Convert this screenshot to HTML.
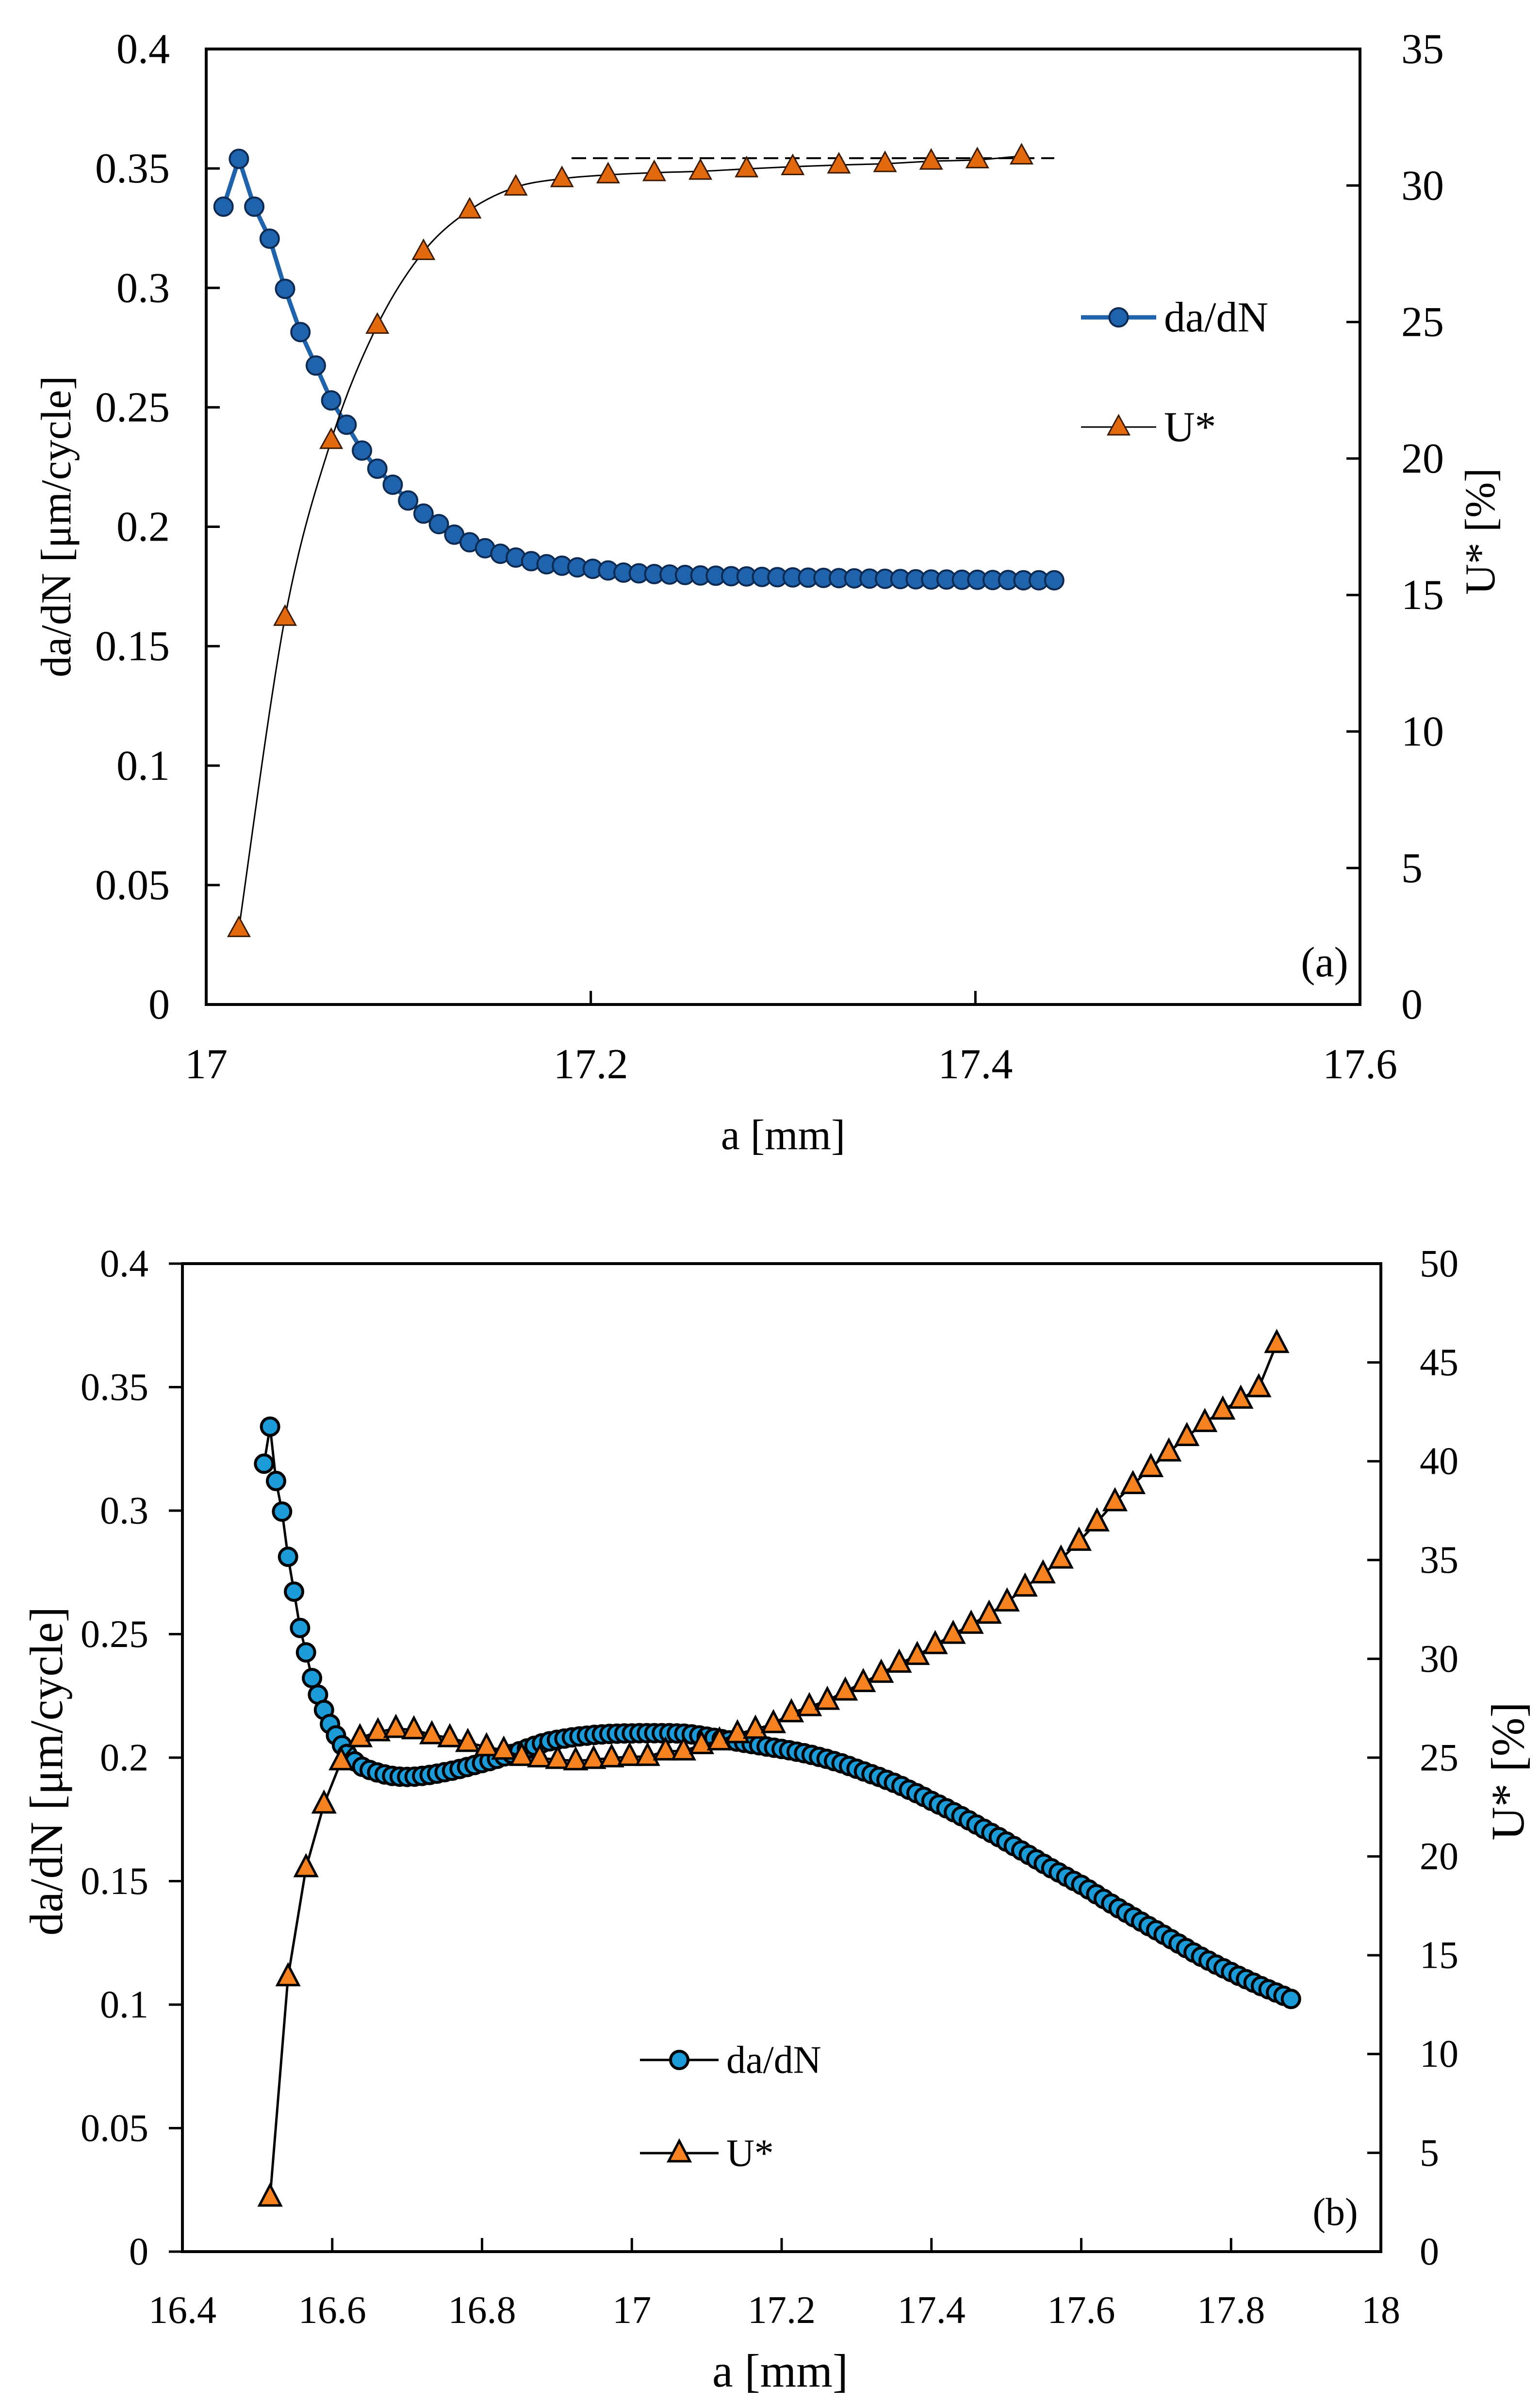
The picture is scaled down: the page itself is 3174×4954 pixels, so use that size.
<!DOCTYPE html>
<html><head><meta charset="utf-8"><title>da/dN and U* vs a</title>
<style>
html,body{margin:0;padding:0;background:#fff;}
svg{display:block;}
text{font-family:"Liberation Serif","DejaVu Serif",serif;fill:#000;}
</style></head>
<body>
<svg id="chart" width="3174" height="4954" viewBox="0 0 3174 4954" xmlns="http://www.w3.org/2000/svg">
  <rect x="0" y="0" width="3174" height="4954" fill="#fff"/>
  <g id="plotA"></g>
  <g id="plotB"></g>
</svg>
<script>
// ---------- Chart (a) data ----------
const aXTicks = [17, 17.2, 17.4, 17.6];
const aXTickLabels = ["17", "17.2", "17.4", "17.6"];
const aYTicks = [0, 0.05, 0.1, 0.15, 0.2, 0.25, 0.3, 0.35, 0.4];
const aYTickLabels = ["0", "0.05", "0.1", "0.15", "0.2", "0.25", "0.3", "0.35", "0.4"];
const aY2Ticks = [0, 5, 10, 15, 20, 25, 30, 35];
const aY2TickLabels = ["0", "5", "10", "15", "20", "25", "30", "35"];
const aRateX = [17.009,17.017,17.025,17.033,17.041,17.049,17.057,17.065,17.073,17.081,17.089,17.097,17.105,17.113,17.121,17.129,17.137,17.145,17.153,17.161,17.169,17.177,17.185,17.193,17.201,17.209,17.217,17.225,17.233,17.241,17.249,17.257,17.265,17.273,17.281,17.289,17.297,17.305,17.313,17.321,17.329,17.337,17.345,17.353,17.361,17.369,17.377,17.385,17.393,17.401,17.409,17.417,17.425,17.433,17.441];
const aRateY = [0.334,0.354,0.334,0.3206,0.2996,0.2815,0.2675,0.2529,0.2427,0.2319,0.2243,0.2176,0.211,0.2055,0.2011,0.1967,0.1935,0.191,0.1887,0.1871,0.1856,0.1843,0.1837,0.183,0.1824,0.1817,0.1808,0.1805,0.1802,0.18,0.1798,0.1796,0.1795,0.1793,0.1792,0.179,0.1789,0.1788,0.1787,0.1786,0.1785,0.1784,0.1783,0.1782,0.1781,0.178,0.1779,0.1779,0.1778,0.1778,0.1777,0.1777,0.1776,0.1776,0.1776];
const aUX = [17.017,17.041,17.065,17.089,17.113,17.137,17.161,17.185,17.209,17.233,17.257,17.281,17.305,17.329,17.353,17.377,17.401,17.424];
const aUY = [2.78,14.18,20.66,24.88,27.58,29.1,29.94,30.25,30.39,30.47,30.52,30.61,30.69,30.75,30.8,30.89,30.94,31.08];
const aDashX = [17.19, 17.441];
const aDashU = [31.0, 31.0];

// ---------- Chart (b) data ----------
const bXTicks = [16.4,16.6,16.8,17,17.2,17.4,17.6,17.8,18];
const bXTickLabels = ["16.4","16.6","16.8","17","17.2","17.4","17.6","17.8","18"];
const bYTicks = [0,0.05,0.1,0.15,0.2,0.25,0.3,0.35,0.4];
const bYTickLabels = ["0","0.05","0.1","0.15","0.2","0.25","0.3","0.35","0.4"];
const bY2Ticks = [0,5,10,15,20,25,30,35,40,45,50];
const bY2TickLabels = ["0","5","10","15","20","25","30","35","40","45","50"];
const bRateX = [16.509,16.517,16.525,16.533,16.541,16.549,16.557,16.565,16.573,16.581,16.589,16.597,16.605,16.613,
16.62,16.63,16.64,16.65,16.66,16.67,16.68,16.69,16.70,16.71,
16.72,16.73,16.74,16.75,16.76,16.77,16.78,16.79,16.80,16.81,
16.82,16.83,16.84,16.85,16.86,16.87,16.88,16.89,16.90,16.91,
16.92,16.93,16.94,16.95,16.96,16.97,16.98,16.99,17.00,17.01,
17.02,17.03,17.04,17.05,17.06,17.07,17.08,17.09,17.10,17.11,
17.12,17.13,17.14,17.15,17.16,17.17,17.18,17.19,17.20,17.21,
17.22,17.23,17.24,17.25,17.26,17.27,17.28,17.29,17.30,17.31,
17.32,17.33,17.34,17.35,17.36,17.37,17.38,17.39,17.40,17.41,
17.42,17.43,17.44,17.45,17.46,17.47,17.48,17.49,17.50,17.51,
17.52,17.53,17.54,17.55,17.56,17.57,17.58,17.59,17.60,17.61,
17.62,17.63,17.64,17.65,17.66,17.67,17.68,17.69,17.70,17.71,
17.72,17.73,17.74,17.75,17.76,17.77,17.78,17.79,17.80,17.81,
17.82,17.83,17.84,17.85,17.86,17.87,17.88];
const bRateY = [0.319,0.334,0.312,0.2996,0.2813,0.2672,0.2525,0.2426,0.2322,0.2255,0.2193,0.2136,0.209,0.205,
0.2015,0.1985,0.1963,0.1950,0.1940,0.1932,0.1926,0.1923,0.1922,0.1923,
0.1926,0.1930,0.1935,0.1941,0.1947,0.1954,0.1962,0.1970,0.1978,0.1986,
0.1995,0.2005,0.2015,0.2026,0.2037,0.2048,0.2058,0.2066,0.2072,0.2077,
0.2082,0.2086,0.2089,0.2092,0.2094,0.2096,0.2097,0.2098,0.2098,0.2099,
0.2099,0.2099,0.2099,0.2099,0.2098,0.2097,0.2094,0.2090,0.2085,0.2080,
0.2075,0.2070,0.2065,0.2060,0.2055,0.2050,0.2045,0.2040,0.2035,0.2030,
0.2024,0.2018,0.2011,0.2003,0.1995,0.1986,0.1977,0.1966,0.1955,0.1944,
0.1933,0.1922,0.1910,0.1898,0.1885,0.1870,0.1856,0.1841,0.1825,0.1810,
0.1795,0.1779,0.1763,0.1746,0.1729,0.1712,0.1695,0.1678,0.1660,0.1642,
0.1624,0.1606,0.1588,0.1570,0.1552,0.1535,0.1518,0.1501,0.1485,0.1466,
0.1447,0.1428,0.1409,0.1390,0.1372,0.1354,0.1336,0.1318,0.1301,0.1283,
0.1265,0.1247,0.1229,0.1211,0.1194,0.1178,0.1162,0.1147,0.1132,0.1117,
0.1103,0.1089,0.1075,0.1062,0.1049,0.1036,0.1023];
const bUX = [16.517,16.541,16.565,16.589,16.612,16.637,16.661,16.685,16.709,16.733,16.757,16.781,16.806,16.829,16.853,16.877,16.901,16.925,16.949,16.973,16.997,17.021,
17.045,17.069,17.093,17.117,17.141,17.165,17.189,17.213,17.237,17.261,17.285,17.309,17.333,17.357,17.381,17.405,17.429,17.453,17.477,17.501,17.525,17.549,17.573,17.597,17.621,17.645,17.669,17.693,17.717,17.741,17.765,17.789,17.813,17.837,17.861];
const bUY = [2.75,13.9,19.42,22.64,24.83,26.0,26.3,26.47,26.4,26.15,26.0,25.76,25.54,25.37,25.05,24.98,24.9,24.83,24.9,24.98,25.05,25.05,
25.33,25.33,25.65,25.84,26.2,26.43,26.71,27.26,27.57,27.89,28.36,28.79,29.26,29.77,30.16,30.71,31.23,31.74,32.25,32.87,33.62,34.29,35.04,35.94,36.92,37.94,38.81,39.67,40.46,41.24,41.95,42.58,43.13,43.71,45.95];

const NS = "http://www.w3.org/2000/svg";
function mk(tag, attrs, parent) {
  const e = document.createElementNS(NS, tag);
  for (const k in attrs) e.setAttribute(k, attrs[k]);
  parent.appendChild(e);
  return e;
}
function linScale(d0, d1, r0, r1) { return v => r0 + (v - d0) / (d1 - d0) * (r1 - r0); }
function smoothPath(pts) {
  let d = "M" + pts[0][0] + "," + pts[0][1];
  for (let i = 0; i < pts.length - 1; i++) {
    const p0 = pts[Math.max(0, i - 1)], p1 = pts[i], p2 = pts[i + 1], p3 = pts[Math.min(pts.length - 1, i + 2)];
    const c1x = p1[0] + (p2[0] - p0[0]) / 6, c1y = p1[1] + (p2[1] - p0[1]) / 6;
    const c2x = p2[0] - (p3[0] - p1[0]) / 6, c2y = p2[1] - (p3[1] - p1[1]) / 6;
    d += " C" + c1x + "," + c1y + " " + c2x + "," + c2y + " " + p2[0] + "," + p2[1];
  }
  return d;
}
function tri(cx, cy, w, h) {
  return (cx) + "," + (cy - h * 0.6) + " " + (cx - w / 2) + "," + (cy + h * 0.4) + " " + (cx + w / 2) + "," + (cy + h * 0.4);
}

function drawChart(cfg) {
  const g = cfg.g;
  const x = linScale(cfg.xmin, cfg.xmax, cfg.L, cfg.R);
  const y = linScale(cfg.ymin, cfg.ymax, cfg.B, cfg.T);
  const y2 = linScale(cfg.y2min, cfg.y2max, cfg.B, cfg.T);
  const fs = cfg.fs;
  const tfs = cfg.tfs;

  const frame = mk("rect", {x: cfg.L, y: cfg.T, width: cfg.R - cfg.L, height: cfg.B - cfg.T, fill: "none", stroke: "#000", "stroke-width": 6}, g);
  
  

  cfg.xTicks.forEach((t, i) => {
    const px = x(t);
    const tk = mk("line", {x1: px, x2: px, y1: cfg.B, y2: cfg.B - 28, stroke: "#000", "stroke-width": 5}, g);
    
    
    const tl = mk("text", {x: px, y: cfg.xLabelY, "font-size": fs, "text-anchor": "middle"}, g);
    tl.textContent = cfg.xTickLabels[i];
    
    
  });
  cfg.yTicks.forEach((t, i) => {
    const py = y(t);
    const tk = mk("line", {x1: cfg.L, x2: cfg.L + cfg.leftTickDir * 28, y1: py, y2: py, stroke: "#000", "stroke-width": 5}, g);
    
    
    const tl = mk("text", {x: cfg.yLabelX, y: py + fs * 0.33, "font-size": fs, "text-anchor": "end"}, g);
    tl.textContent = cfg.yTickLabels[i];
    
    
  });
  cfg.y2Ticks.forEach((t, i) => {
    const py = y2(t);
    const tk = mk("line", {x1: cfg.R, x2: cfg.R - 28, y1: py, y2: py, stroke: "#000", "stroke-width": 5}, g);
    
    
    const tl = mk("text", {x: cfg.y2LabelX, y: py + fs * 0.33, "font-size": fs, "text-anchor": "start"}, g);
    tl.textContent = cfg.y2TickLabels[i];
    
    
  });

  const xt = mk("text", {x: cfg.xTitle[0], y: cfg.xTitle[1], "font-size": tfs, "text-anchor": "middle"}, g);
  xt.textContent = "a [mm]";
  
  
  const yt = mk("text", {x: 0, y: 0, "font-size": tfs, "text-anchor": "middle", transform: "translate(" + cfg.yTitle[0] + "," + cfg.yTitle[1] + ") rotate(-90)"}, g);
  yt.textContent = "da/dN [μm/cycle]";
  
  
  const y2t = mk("text", {x: 0, y: 0, "font-size": tfs, "text-anchor": "middle", transform: "translate(" + cfg.y2Title[0] + "," + cfg.y2Title[1] + ") rotate(-90)"}, g);
  y2t.textContent = cfg.y2TitleText;
  
  

  const pl = mk("text", {x: cfg.panel[0], y: cfg.panel[1], "font-size": fs, "text-anchor": "middle"}, g);
  pl.textContent = cfg.panelText;
  
  

  const rg = mk("g", {}, g);
  
  
  const rpts = cfg.rateX.map((v, i) => [x(v), y(cfg.rateY[i])]);
  const rl = mk("polyline", {points: rpts.map(p => p.join(",")).join(" "), fill: "none", stroke: cfg.rateLine, "stroke-width": cfg.rateLineW, "stroke-linejoin": "round"}, rg);
  
  
  rpts.forEach(p => {
    const c = mk("circle", {cx: p[0], cy: p[1], r: cfg.circR, fill: cfg.circFill, stroke: cfg.circStroke, "stroke-width": cfg.circSW}, rg);
    
    
  });

  if (cfg.dashX) {
    const dl = mk("line", {x1: x(cfg.dashX[0]), x2: x(cfg.dashX[1]), y1: y2(cfg.dashU[0]), y2: y2(cfg.dashU[1]), stroke: "#000", "stroke-width": 4, "stroke-dasharray": "30,14"}, g);
    
    
  }

  const ug = mk("g", {}, g);
  
  
  const upts = cfg.uX.map((v, i) => [x(v), y2(cfg.uY[i])]);
  const ul = mk("path", {d: cfg.uSmooth ? smoothPath(upts) : "M" + upts.map(p => p.join(",")).join(" L"), fill: "none", stroke: "#000", "stroke-width": cfg.uLineW}, ug);
  
  
  upts.forEach(p => {
    const t = mk("polygon", {points: tri(p[0], p[1], cfg.triW, cfg.triH), fill: cfg.triFill, stroke: cfg.triStroke, "stroke-width": cfg.triSW, "stroke-linejoin": "miter"}, ug);
    
    
  });

  const lg = mk("g", {}, g);
  
  
  const l1 = mk("line", {x1: cfg.leg.x1, x2: cfg.leg.x2, y1: cfg.leg.y1, y2: cfg.leg.y1, stroke: cfg.rateLine, "stroke-width": cfg.rateLineW}, lg);
  
  
  const lc = mk("circle", {cx: (cfg.leg.x1 + cfg.leg.x2) / 2, cy: cfg.leg.y1, r: cfg.circR, fill: cfg.circFill, stroke: cfg.circStroke, "stroke-width": cfg.circSW}, lg);
  
  
  const lt1 = mk("text", {x: cfg.leg.x2 + 16, y: cfg.leg.y1 + fs * 0.33, "font-size": fs}, lg);
  lt1.textContent = "da/dN";
  
  
  const l2 = mk("line", {x1: cfg.leg.x1, x2: cfg.leg.x2, y1: cfg.leg.y2, y2: cfg.leg.y2, stroke: "#000", "stroke-width": cfg.uLineW}, lg);
  
  
  const lm = mk("polygon", {points: tri((cfg.leg.x1 + cfg.leg.x2) / 2, cfg.leg.y2, cfg.triW, cfg.triH), fill: cfg.triFill, stroke: cfg.triStroke, "stroke-width": cfg.triSW}, lg);
  
  
  const lt2 = mk("text", {x: cfg.leg.x2 + 16, y: cfg.leg.y2 + fs * 0.33, "font-size": fs}, lg);
  lt2.textContent = "U*";
  
  
}

drawChart({
  g: document.getElementById("plotA"),
  L: 425, R: 2803, T: 101, B: 2070,
  xmin: 17, xmax: 17.6, ymin: 0, ymax: 0.4, y2min: 0, y2max: 35,
  fs: 88, tfs: 88,
  xTicks: aXTicks, xTickLabels: aXTickLabels, yTicks: aYTicks, yTickLabels: aYTickLabels,
  y2Ticks: aY2Ticks, y2TickLabels: aY2TickLabels,
  xLabelY: 2222, yLabelX: 350, y2LabelX: 2888, leftTickDir: 1,
  xTitle: [1614, 2368], yTitle: [145, 1085], y2Title: [3080, 1095], y2TitleText: "U*  [%]",
  panel: [2730, 2012], panelText: "(a)",
  rateX: aRateX, rateY: aRateY, rateLine: "#1f63ad", rateLineW: 9,
  circR: 19, circFill: "#1f63ad", circStroke: "#0d2a52", circSW: 4,
  uX: aUX, uY: aUY, uSmooth: true, uLineW: 3,
  triW: 44, triH: 40, triFill: "#e3690f", triStroke: "#3a1a00", triSW: 3,
  dashX: aDashX, dashU: aDashU,
  leg: {x1: 2228, x2: 2383, y1: 654, y2: 880}
});

drawChart({
  g: document.getElementById("plotB"),
  L: 376, R: 2846, T: 2604, B: 4640,
  xmin: 16.4, xmax: 18, ymin: 0, ymax: 0.4, y2min: 0, y2max: 50,
  fs: 80, tfs: 96,
  xTicks: bXTicks, xTickLabels: bXTickLabels, yTicks: bYTicks, yTickLabels: bYTickLabels,
  y2Ticks: bY2Ticks, y2TickLabels: bY2TickLabels,
  xLabelY: 4787, yLabelX: 306, y2LabelX: 2926, leftTickDir: -1,
  xTitle: [1608, 4918], yTitle: [128, 3650], y2Title: [3140, 3650], y2TitleText: "U* [%]",
  panel: [2752, 4585], panelText: "(b)",
  rateX: bRateX, rateY: bRateY, rateLine: "#000", rateLineW: 5,
  circR: 18, circFill: "#1b9bd7", circStroke: "#000", circSW: 6,
  uX: bUX, uY: bUY, uSmooth: false, uLineW: 5,
  triW: 44, triH: 42, triFill: "#f6821f", triStroke: "#000", triSW: 5,
  dashX: null,
  leg: {x1: 1319, x2: 1481, y1: 4245, y2: 4437}
});
</script>
</body></html>
